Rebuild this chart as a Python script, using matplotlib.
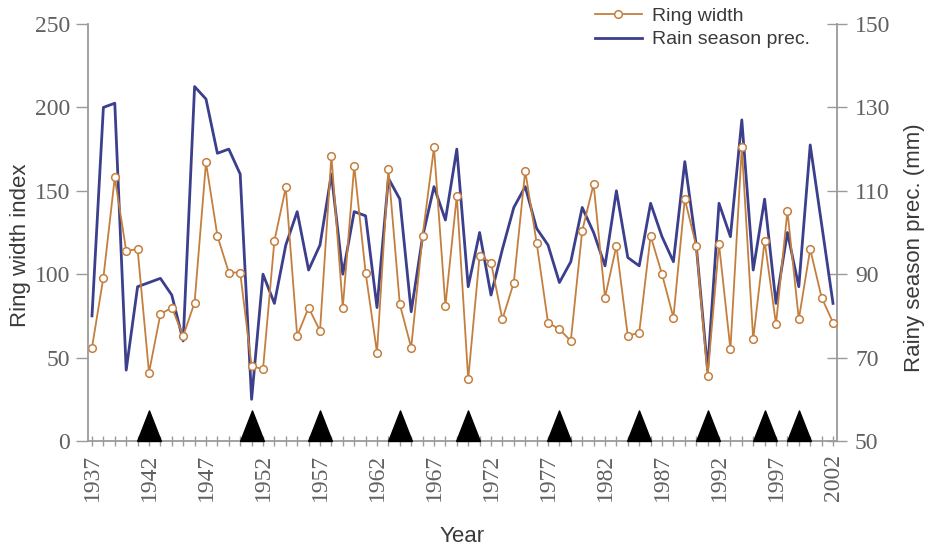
import numpy as np
import matplotlib
matplotlib.use('Agg')
from matplotlib import pyplot as plt
from matplotlib.path import Path

# data
years = list(range(1937, 2003))

ring_width = [56, 98, 158, 114, 115, 41, 76, 80, 63, 83,
              167, 123, 101, 101, 45, 43, 120, 152, 63, 80,
              66, 171, 80, 165, 101, 53, 163, 82, 56, 123,
              176, 81, 147, 37, 111, 107, 73, 95, 162, 119,
              71, 67, 60, 126, 154, 86, 117, 63, 65, 123,
              100, 74, 145, 117, 39, 118, 55, 176, 61, 120,
              70, 138, 73, 115, 86, 71]

rain_prec = [80, 130, 131, 67, 87, 88, 89, 85, 74, 135,
             132, 119, 120, 114, 60, 90, 83, 97, 105, 91,
             97, 114, 90, 105, 104, 82, 113, 108, 81, 99,
             111, 103, 120, 87, 100, 85, 96, 106, 111, 101,
             97, 88, 93, 106, 100, 92, 110, 94, 92, 107,
             99, 93, 117, 97, 67, 107, 99, 127, 91, 108,
             83, 100, 87, 121, 102, 83]

event_years = [1942, 1951, 1957, 1964, 1970, 1978, 1985, 1991, 1996, 1999]

year_labels = years[::5]
left_ticks = [0, 50, 100, 150, 200, 250]
right_ticks = [50, 70, 90, 110, 130, 150]

orange = '#c47f3e'
navy = '#3b3f8c'
spine_col = '#9a9a9a'
tick_col = '#606060'
label_col = '#3a3a3a'
serif = 'Liberation Serif'
sans = 'Liberation Sans'

fig = plt.figure(figsize=(9.33, 5.49), dpi=100)
ax = fig.add_axes([88/933, 1-441/549, (837-88)/933, (441-24)/549])
ax2 = ax.twinx()

# ring width drawn above the rainfall line
ax.set_zorder(ax2.get_zorder()+1)
ax.patch.set_visible(False)

ln2, = ax2.plot(years, rain_prec, color=navy, lw=2.0, label='Rain season prec.')
ln1, = ax.plot(years, ring_width, color=orange, lw=1.3, marker='o', ms=5.5,
               mfc='white', mec=orange, mew=1.1, label='Ring width')

# event triangles sitting on the baseline
tri = Path([(-0.39, 0), (0.39, 0), (0, 1), (-0.39, 0)])
ax.plot(event_years, [0]*len(event_years), ls='none', marker=tri, ms=44,
        color='black', clip_on=False, zorder=5)

ax.set_xlim(1936.65, 2002.35)
ax.set_ylim(0, 250)
ax2.set_ylim(50, 150)

ax.set_xticks(year_labels)
ax.set_xticks(years, minor=True)
ax.set_xticklabels([str(y) for y in year_labels], rotation=90, family=serif,
                   fontsize=17, color=tick_col)
ax.set_yticks(left_ticks)
ax.set_yticklabels([str(v) for v in left_ticks], family=serif, fontsize=17,
                   color=tick_col)
ax2.set_yticks(right_ticks)
ax2.set_yticklabels([str(v) for v in right_ticks], family=serif, fontsize=17,
                    color=tick_col)

ax.tick_params(axis='x', which='both', direction='inout', length=7,
               width=1.0, color=spine_col, pad=6)
ax.tick_params(axis='y', direction='out', length=9, width=1.0,
               color=spine_col, pad=4)
ax2.tick_params(axis='y', direction='inout', length=14, width=1.0,
                color=spine_col, pad=6)

for a in (ax, ax2):
    a.spines['top'].set_visible(False)
    for s in ('left', 'right', 'bottom'):
        a.spines[s].set_color(spine_col)
        a.spines[s].set_linewidth(1.3)
ax.spines['right'].set_visible(False)
ax2.spines['left'].set_visible(False)
ax2.spines['bottom'].set_visible(False)

ax.set_ylabel('Ring width index', family=sans, fontsize=16, color=label_col)
ax.yaxis.set_label_coords(-0.076, 0.47)
ax2.set_ylabel('Rainy season prec. (mm)', family=sans, fontsize=16,
               color=label_col, rotation=90)
ax2.yaxis.set_label_coords(1.089, 0.463)
ax.set_xlabel('Year', family=sans, fontsize=16, color=label_col)
ax.xaxis.set_label_coords(0.5, -0.205)

fig.legend([ln1, ln2], ['Ring width', 'Rain season prec.'], loc='upper left',
           bbox_to_anchor=(595/933, 0.986), frameon=False, borderpad=0,
           borderaxespad=0, handlelength=2.4, handletextpad=0.55,
           labelspacing=0.28, prop={'family': sans, 'size': 14},
           labelcolor=label_col)

fig.savefig('out.png', dpi=100)
